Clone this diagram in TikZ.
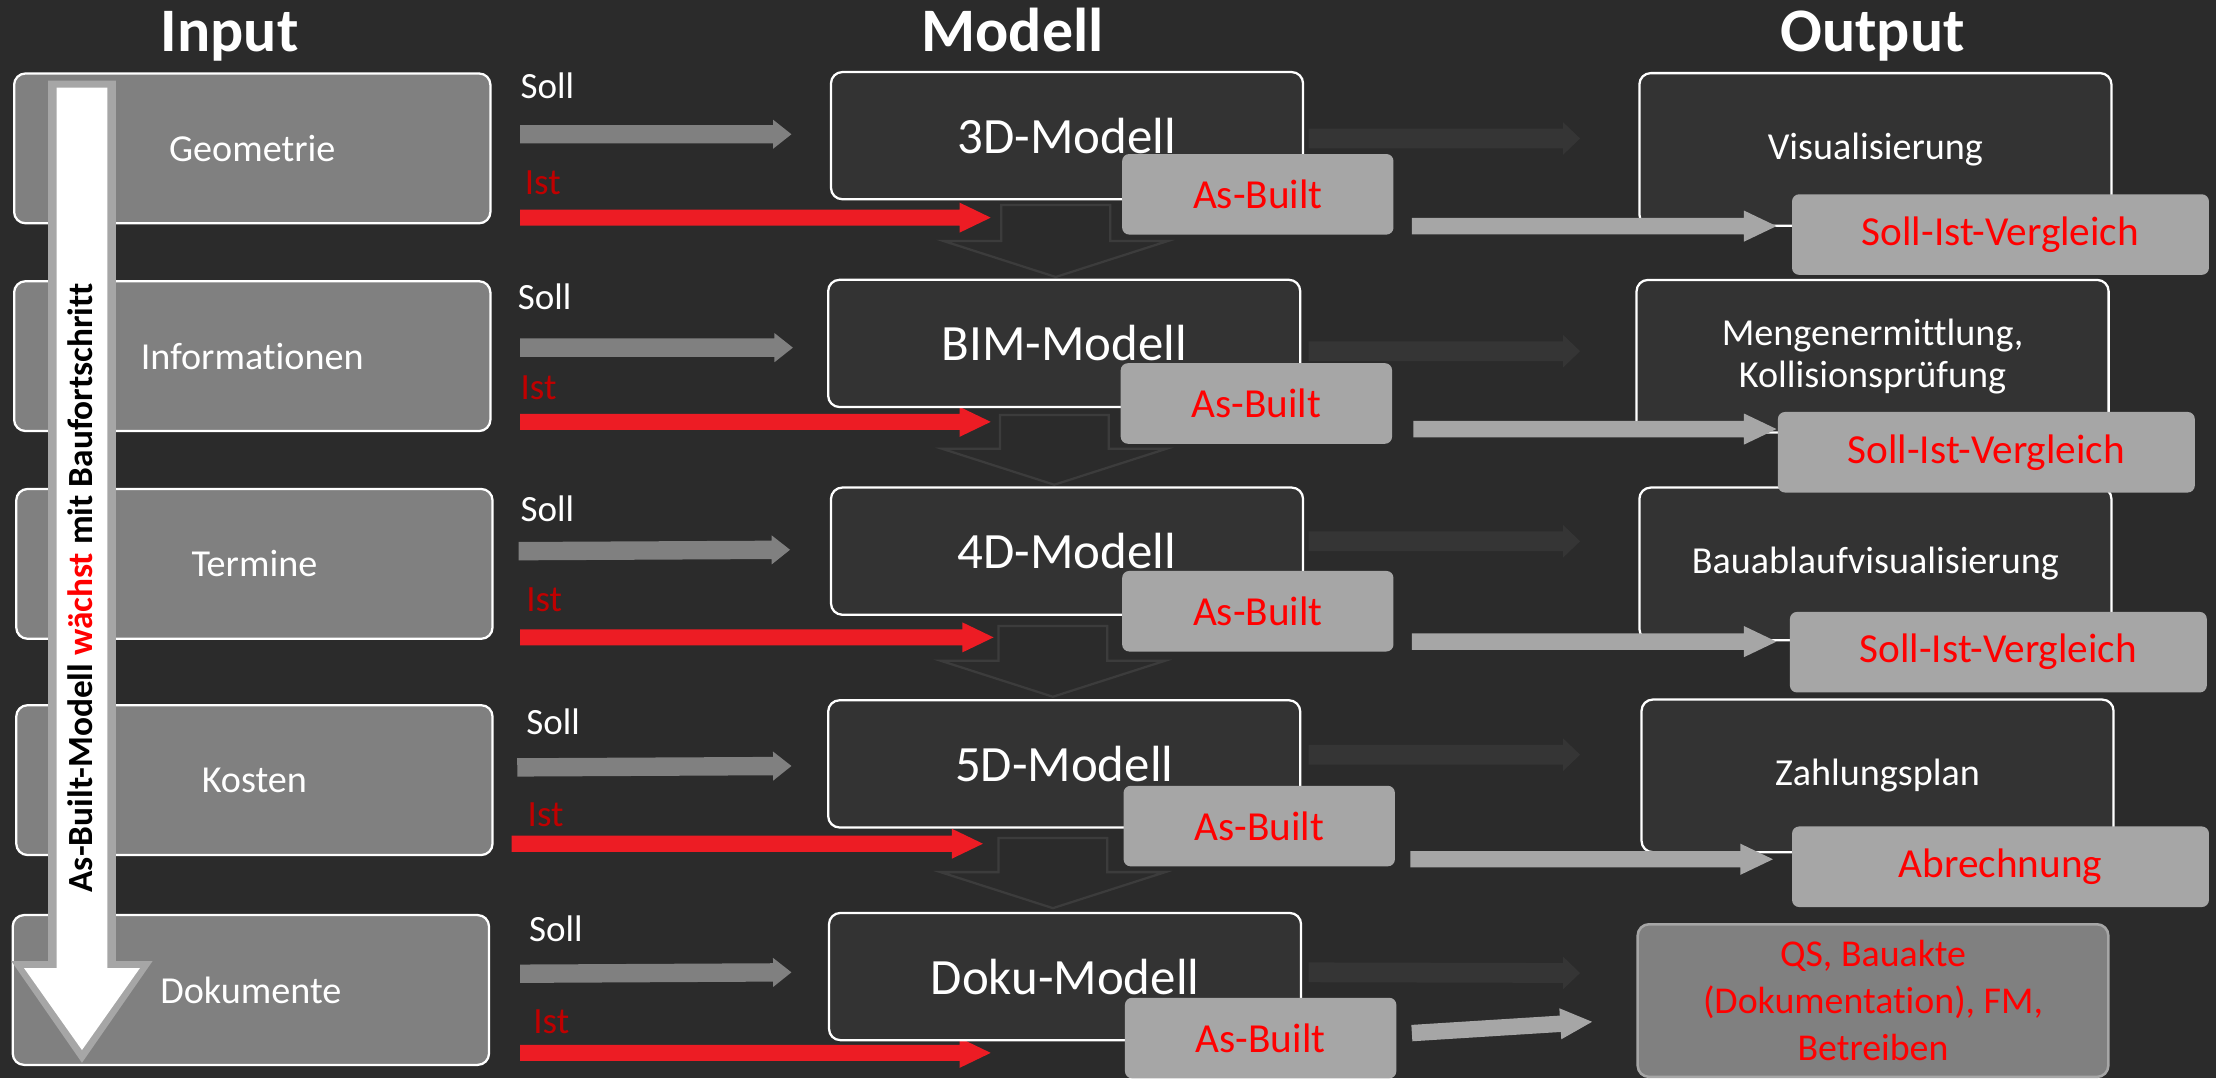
\documentclass[tikz,border=0pt]{standalone}
\usepackage{fontspec}
\setmainfont{Carlito}[Ligatures=NoCommon]
\usetikzlibrary{calc}

\definecolor{bg}{HTML}{2B2B2B}
\definecolor{modelfill}{HTML}{333333}
\definecolor{faint}{HTML}{353535}
\definecolor{faintline}{HTML}{3C3C3C}
\definecolor{midgray}{HTML}{808080}
\definecolor{lightgray}{HTML}{A6A6A6}
\definecolor{istred}{HTML}{ED1C24}
\definecolor{labelred}{HTML}{C00000}
\definecolor{textred}{HTML}{FF0000}

% block arrow: style, from, to, shaft half width, head half width, head length
\newcommand{\flowarrow}[6]{%
  \coordinate (fa-hb) at ($(#3)!#6!(#2)$);
  \path[#1] ($(#2)!#4!90:(#3)$) -- ($(fa-hb)!#4!90:(#3)$) -- ($(fa-hb)!#5!90:(#3)$) -- (#3)
     -- ($(fa-hb)!#5!-90:(#3)$) -- ($(fa-hb)!#4!-90:(#3)$) -- ($(#2)!#4!-90:(#3)$) -- cycle;
}

\tikzset{
  inbox/.style={draw=white, line width=0.8pt, fill=midgray, rounded corners=4pt,
    minimum width=168.5pt, minimum height=53pt, text=white, inner sep=0pt,
    font=\fontsize{13.5}{16}\selectfont},
  modelbox/.style={draw=white, line width=0.8pt, fill=modelfill, rounded corners=4pt,
    minimum width=167pt, minimum height=45pt, text=white, inner sep=0pt,
    font=\fontsize{18}{21}\selectfont},
  outbox/.style={modelbox, minimum height=54pt, align=center,
    font=\fontsize{13.5}{14.8}\selectfont},
  builtbox/.style={fill=lightgray, rounded corners=2.5pt, minimum width=96pt,
    minimum height=28.5pt, text=textred, inner sep=0pt,
    font=\fontsize{14.6}{17}\selectfont},
  cmpbox/.style={builtbox, minimum width=147.5pt},
  docbox/.style={draw=lightgray, line width=0.9pt, fill=midgray, rounded corners=4pt,
    minimum width=166.5pt, minimum height=54pt, text=textred, inner sep=0pt, align=center,
    font=\fontsize{13.4}{16.5}\selectfont},
  title/.style={text=white, anchor=base, inner sep=0pt,
    font=\fontsize{21.9}{26}\selectfont\bfseries},
  solllabel/.style={text=white, anchor=base west, inner sep=0pt,
    font=\fontsize{13.1}{15}\selectfont},
  istlabel/.style={solllabel, text=labelred},
  sollarrow/.style={fill=midgray},
  istarrow/.style={fill=istred},
  outarrow/.style={fill=lightgray},
  ghostarrow/.style={fill=faint},
  stagearrow/.style={draw=faintline, line width=0.8pt},
}

\begin{document}
\begin{tikzpicture}[x=0.5pt, y=-0.5pt]
  % canvas
  \fill[bg] (0,0) rectangle (1568,763);
  \useasboundingbox (0,0) rectangle (1568,763);

  % column titles
  \node[title] (tin)  at (162.5,36.6) {Input};
  \node[title] (tmod) at (716.5,36.6) {Modell};
  \node[title] (tout) at (1325,36.6)  {Output};

  % input boxes
  \node[inbox] (in1) at (178.5,105)   {Geometrie};
  \node[inbox] (in2) at (178.5,252)   {Informationen};
  \node[inbox] (in3) at (180,399)     {Termine};
  \node[inbox] (in4) at (180,552)     {Kosten};
  \node[inbox] (in5) at (177.5,700.5) {Dokumente};

  % progress arrow over the input column
  \fill[lightgray] (34,57) -- (82,57) -- (82,680) -- (108,680) -- (58,752) -- (8,680) -- (34,680) -- cycle;
  \fill[white] (40,62) -- (76,62) -- (76,685) -- (99,685) -- (58,743) -- (17,685) -- (40,685) -- cycle;
  \node[rotate=90, inner sep=0pt, text=black, font=\fontsize{12.5}{14}\selectfont\bfseries] (grow) at (57,416)
    {As-Built-Modell \textcolor{textred}{wächst} mit Baufortschritt};

  % Soll / Ist labels
  \node[solllabel] (soll1) at (368,69.6) {Soll};
  \node[istlabel]  (ist1)  at (371,137.4) {Ist};
  \node[solllabel] (soll2) at (366,219.3) {Soll};
  \node[istlabel]  (ist2)  at (368,283) {Ist};
  \node[solllabel] (soll3) at (368,369) {Soll};
  \node[istlabel]  (ist3)  at (372,433) {Ist};
  \node[solllabel] (soll4) at (372,520) {Soll};
  \node[istlabel]  (ist4)  at (373,585) {Ist};
  \node[solllabel] (soll5) at (374,666.3) {Soll};
  \node[istlabel]  (ist5)  at (377,731) {Ist};

  % arrow end points
  \coordinate (sa1) at (368,95);    \coordinate (sb1) at (560,95);
  \coordinate (sa2) at (368,246);   \coordinate (sb2) at (561,246);
  \coordinate (sa3) at (367,390);   \coordinate (sb3) at (559,389);
  \coordinate (sa4) at (366,543);   \coordinate (sb4) at (560,542);
  \coordinate (sa5) at (368,689);   \coordinate (sb5) at (560,688);
  \coordinate (ia1) at (368,154);   \coordinate (ib1) at (701,154);
  \coordinate (ia2) at (368,298.5); \coordinate (ib2) at (701,298.5);
  \coordinate (ia3) at (368,451);   \coordinate (ib3) at (703,451);
  \coordinate (ia4) at (362,597);   \coordinate (ib4) at (695.5,597);
  \coordinate (ia5) at (368,745);   \coordinate (ib5) at (701,745);

  % Soll arrows
  \flowarrow{sollarrow}{sa1}{sb1}{3.25pt}{5.15pt}{6.5pt}
  \flowarrow{sollarrow}{sa2}{sb2}{3.25pt}{5.15pt}{6.5pt}
  \flowarrow{sollarrow}{sa3}{sb3}{3.25pt}{5.15pt}{6.5pt}
  \flowarrow{sollarrow}{sa4}{sb4}{3.25pt}{5.15pt}{6.5pt}
  \flowarrow{sollarrow}{sa5}{sb5}{3.25pt}{5.15pt}{6.5pt}
  % Ist arrows
  \flowarrow{istarrow}{ia1}{ib1}{2.85pt}{5.3pt}{11pt}
  \flowarrow{istarrow}{ia2}{ib2}{2.85pt}{5.3pt}{11pt}
  \flowarrow{istarrow}{ia3}{ib3}{2.85pt}{5.3pt}{11pt}
  \flowarrow{istarrow}{ia4}{ib4}{2.85pt}{5.3pt}{11pt}
  \flowarrow{istarrow}{ia5}{ib5}{2.85pt}{5.3pt}{11pt}

  % stage arrows between the models
  \coordinate (da1) at (747,145);   \coordinate (db1) at (747,196);
  \coordinate (da2) at (746,293.6); \coordinate (db2) at (746,343);
  \coordinate (da3) at (745,443);   \coordinate (db3) at (745,493);
  \coordinate (da4) at (745,593);   \coordinate (db4) at (745,642.6);
  \flowarrow{stagearrow}{da1}{db1}{19.25pt}{39.75pt}{12.75pt}
  \flowarrow{stagearrow}{da2}{db2}{19.25pt}{39.75pt}{12.75pt}
  \flowarrow{stagearrow}{da3}{db3}{19.25pt}{39.75pt}{12.75pt}
  \flowarrow{stagearrow}{da4}{db4}{19.25pt}{39.75pt}{12.75pt}

  % model boxes
  \node[modelbox] (m1) at (755,96)      {3D-Modell};
  \node[modelbox] (m2) at (753,243)     {BIM-Modell};
  \node[modelbox] (m3) at (755,390)     {4D-Modell};
  \node[modelbox] (m4) at (753,540.5)   {5D-Modell};
  \node[modelbox] (m5) at (753.6,691)   {Doku-Modell};

  % model to output (planned)
  \coordinate (ga1) at (926,98);    \coordinate (gb1) at (1118,98);
  \coordinate (ga2) at (926,248.5); \coordinate (gb2) at (1118,248.5);
  \coordinate (ga3) at (926,383);   \coordinate (gb3) at (1118,383);
  \coordinate (ga4) at (926,534);   \coordinate (gb4) at (1118,534);
  \coordinate (ga5) at (926,688);   \coordinate (gb5) at (1118,688.5);
  \flowarrow{ghostarrow}{ga1}{gb1}{3.5pt}{5.75pt}{6pt}
  \flowarrow{ghostarrow}{ga2}{gb2}{3.5pt}{5.75pt}{6pt}
  \flowarrow{ghostarrow}{ga3}{gb3}{3.5pt}{5.75pt}{6pt}
  \flowarrow{ghostarrow}{ga4}{gb4}{3.5pt}{5.75pt}{6pt}
  \flowarrow{ghostarrow}{ga5}{gb5}{3.5pt}{5.75pt}{6pt}

  % As-Built boxes
  \node[builtbox] (a1) at (890,137.5) {As-Built};
  \node[builtbox] (a2) at (889,285.5) {As-Built};
  \node[builtbox] (a3) at (890,432.5) {As-Built};
  \node[builtbox] (a4) at (891,584.5) {As-Built};
  \node[builtbox] (a5) at (892,734.5) {As-Built};

  % output boxes
  \node[outbox] (o1) at (1327,105.75) {Visualisierung};
  \node[outbox] (o2) at (1325,252.1)  {Mengenermittlung,\\Kollisionsprüfung};
  \node[outbox] (o3) at (1327,399)    {Bauablaufvisualisierung};
  \node[outbox] (o4) at (1328.5,549)  {Zahlungsplan};
  \node[docbox] (o5) at (1325.3,708)  {QS, Bauakte\\(Dokumentation), FM,\\Betreiben};

  % As-Built to output
  \coordinate (oa1) at (999,160);    \coordinate (ob1) at (1257,160);
  \coordinate (oa2) at (1000,303.6); \coordinate (ob2) at (1257,303.6);
  \coordinate (oa3) at (999,454);    \coordinate (ob3) at (1257,454);
  \coordinate (oa4) at (998,608);    \coordinate (ob4) at (1254.5,608);
  \coordinate (oa5) at (999,731);    \coordinate (ob5) at (1126.5,723);
  \flowarrow{outarrow}{oa1}{ob1}{2.9pt}{5.5pt}{11.5pt}
  \flowarrow{outarrow}{oa2}{ob2}{2.9pt}{5.5pt}{11.5pt}
  \flowarrow{outarrow}{oa3}{ob3}{2.9pt}{5.5pt}{11.5pt}
  \flowarrow{outarrow}{oa4}{ob4}{2.9pt}{5.5pt}{11.5pt}
  \flowarrow{outarrow}{oa5}{ob5}{2.9pt}{5.5pt}{11.25pt}

  % comparison boxes
  \node[cmpbox] (c1) at (1415.5,166)   {Soll-Ist-Vergleich};
  \node[cmpbox] (c2) at (1405.5,320)   {Soll-Ist-Vergleich};
  \node[cmpbox] (c3) at (1414,461.5)   {Soll-Ist-Vergleich};
  \node[cmpbox] (c4) at (1415.5,613.3) {Abrechnung};
\end{tikzpicture}
\end{document}
